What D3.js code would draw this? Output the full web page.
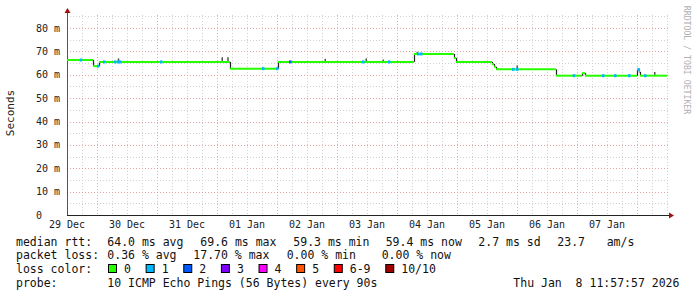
<!DOCTYPE html>
<html>
<head>
<meta charset="utf-8">
<script src="https://cdn.jsdelivr.net/npm/d3@7"></script>
<style>
  body { margin: 0; background: #fff; }
  text { font-family: "DejaVu Sans Mono", monospace; }
</style>
</head>
<body>
<svg id="chart" width="697" height="297"></svg>
<script>
// median rtt as steps: hours since 29 Dec 00:00 -> ms
const stepHours = [0, 10.4, 12.8, 65.2, 84.4, 138.8, 154.8, 155.6, 170, 170.8, 171.6, 195.6, 206, 207.2, 228, 228.8, 229.2];
const stepValues = [66.3, 63.7, 65.5, 62.6, 65.5, 68.9, 67.2, 65.5, 64.6, 63.4, 62.3, 59.6, 60.7, 59.6, 62.2, 61.2, 59.6];
const endHour = 240;

// samples that lost packets: hour, lost pings
const lossHours = [5.5, 12.4, 14.8, 19.2, 20.4, 21.2, 37.6, 78.4, 84, 89.2, 118.4, 128.8, 140.4, 141.6, 178.4, 180, 202.7, 214.4, 219.2, 224.8, 228.6, 231.2];
const lossCounts = [1, 1, 1, 1, 1, 1, 1, 1, 1, 2, 1, 1, 1, 1, 1, 1, 1, 1, 1, 1, 1, 1];

// smoke: hour, low, high (ms)
const smokeHours = [20.5, 62, 64.3, 103.2, 119.6, 126.4, 140, 180, 235];
const smokeLow = [65.5, 65.5, 65.5, 65.5, 65.5, 65.5, 68.9, 62.3, 59.6];
const smokeHigh = [67, 67.5, 67.5, 66.8, 67, 66.5, 69.8, 64, 61.2];

const lossLabels = ['0', '1', '2', '3', '4', '5', '6-9', '10/10'];
const lossColors = ['#26ff00', '#00b8ff', '#0059ff', '#7e00ff', '#ff00ff', '#ff5500', '#ff0000', '#a10000'];

const yTicks = [0, 10, 20, 30, 40, 50, 60, 70, 80];
const dayLabels = ['29 Dec', '30 Dec', '31 Dec', '01 Jan', '02 Jan', '03 Jan', '04 Jan', '05 Jan', '06 Jan', '07 Jan'];

const rttStats = ['64.0 ms avg', '69.6 ms max', '59.3 ms min', '59.4 ms now', '2.7 ms sd', '23.7', 'am/s'];
const lossStats = ['0.36 % avg', '17.70 % max', '0.00 % min', '0.00 % now'];
const probeText = '10 ICMP Echo Pings (56 Bytes) every 90s';
const stampText = 'Thu Jan  8 11:57:57 2026';

const svg = d3.select('#chart');
const t0 = new Date(2025, 11, 29);
const hour = h => new Date(t0.getTime() + h * 3600e3);

const x = d3.scaleTime().domain([t0, hour(240)]).range([67, 667]);
const y = d3.scaleLinear().domain([0, 80]).range([215, 28]);
const plotTop = y(85.6);

// grid
const grid = svg.append('g');
d3.range(0, 241, 6).forEach(h => {
  const major = h % 24 === 12;
  grid.append('line')
    .attr('x1', x(hour(h)) + 0.5).attr('x2', x(hour(h)) + 0.5)
    .attr('y1', plotTop).attr('y2', 215)
    .attr('stroke', major ? '#e9a3a3' : '#d0d0d0')
    .attr('stroke-dasharray', '1,2');
});
d3.range(5, 86, 5).forEach(v => {
  const major = v % 10 === 0;
  grid.append('line')
    .attr('x1', 67).attr('x2', 668)
    .attr('y1', Math.round(y(v)) + 0.5).attr('y2', Math.round(y(v)) + 0.5)
    .attr('stroke', major ? '#e9a3a3' : '#d0d0d0')
    .attr('stroke-dasharray', '1,2');
});

// axes
svg.append('line').attr('x1', 67.5).attr('x2', 67.5).attr('y1', 12).attr('y2', 215)
  .attr('stroke', '#555');
svg.append('line').attr('x1', 67).attr('x2', 670).attr('y1', 215.5).attr('y2', 215.5)
  .attr('stroke', '#222');
svg.append('path').attr('d', 'M64.5,13 L67.5,8 L70.5,13 Z').attr('fill', '#a01010');
svg.append('path').attr('d', 'M669,212.5 L674,215.5 L669,218.5 Z').attr('fill', '#a01010');

svg.append('g').selectAll('text')
  .data(yTicks)
  .enter()
  .append('text')
  .attr('x', 36)
  .attr('y', d => y(d) + 3.5)
  .style('font-size', '10px')
  .attr('fill', '#222')
  .text(d => d === 0 ? '0' : d + ' m');

svg.append('g').selectAll('text')
  .data(dayLabels)
  .enter()
  .append('text')
  .attr('x', (d, i) => x(hour(i * 24)))
  .attr('y', 228)
  .attr('text-anchor', 'middle')
  .style('font-size', '10px')
  .attr('fill', '#222')
  .text(d => d);

svg.append('text')
  .attr('transform', 'translate(14,113) rotate(-90)')
  .attr('text-anchor', 'middle')
  .style('font-size', '11px')
  .attr('fill', '#222')
  .text('Seconds');

svg.append('text')
  .attr('transform', 'translate(684,60) rotate(90)')
  .attr('text-anchor', 'middle')
  .style('font-size', '8.2px')
  .attr('fill', '#b0b0b0')
  .text('RRDTOOL / TOBI OETIKER');

// smoke
svg.append('g').selectAll('rect')
  .data(smokeHours)
  .enter()
  .append('rect')
  .attr('x', d => x(hour(d)) - 0.5)
  .attr('width', 1.5)
  .attr('y', (d, i) => y(smokeHigh[i]))
  .attr('height', (d, i) => y(smokeLow[i]) - y(smokeHigh[i]))
  .attr('fill', '#555');

// median line
const steps = stepHours.map((h, i) => ({
  h0: h,
  h1: i < stepHours.length - 1 ? stepHours[i + 1] : endHour,
  v: stepValues[i],
  next: stepValues[i + 1]
}));
svg.append('g').selectAll('line')
  .data(steps.filter(d => d.next !== undefined))
  .enter()
  .append('line')
  .attr('x1', d => x(hour(d.h1)) + 0.5).attr('x2', d => x(hour(d.h1)) + 0.5)
  .attr('y1', d => y(d.v)).attr('y2', d => y(d.next))
  .attr('stroke', '#222')
  .attr('stroke-width', 1.2);
svg.append('g').selectAll('line')
  .data(steps)
  .enter()
  .append('line')
  .attr('x1', d => x(hour(d.h0))).attr('x2', d => x(hour(d.h1)))
  .attr('y1', d => y(d.v)).attr('y2', d => y(d.v))
  .attr('stroke', lossColors[0])
  .attr('stroke-width', 2);

const valueAt = h => {
  let v = stepValues[0];
  stepHours.forEach((s, i) => { if (s <= h) v = stepValues[i]; });
  return v;
};
svg.append('g').selectAll('rect')
  .data(lossHours)
  .enter()
  .append('rect')
  .attr('x', d => x(hour(d)) - 1)
  .attr('width', 2.5)
  .attr('y', d => y(valueAt(d)) - 1.5)
  .attr('height', 3)
  .attr('fill', (d, i) => lossColors[lossCounts[i]]);

// legend
const legend = svg.append('g').style('font-size', '11.5px').attr('fill', '#111');
const rowY = [245.5, 259, 273, 286.5];
legend.append('text').attr('x', 16).attr('y', rowY[0]).text('median rtt:');
legend.selectAll('.rtt')
  .data(rttStats)
  .enter()
  .append('text')
  .attr('class', 'rtt')
  .attr('x', (d, i) => [107.3, 200.3, 293.3, 385.7, 478.3, 557.3, 606.7][i])
  .attr('y', rowY[0])
  .text(d => d);
legend.append('text').attr('x', 16).attr('y', rowY[1]).text('packet loss:');
legend.selectAll('.loss')
  .data(lossStats)
  .enter()
  .append('text')
  .attr('class', 'loss')
  .attr('x', (d, i) => [107.3, 193.3, 286.7, 381.7][i])
  .attr('y', rowY[1])
  .text(d => d);
legend.append('text').attr('x', 16).attr('y', rowY[2]).text('loss color:');
let lx = 108.5;
lossLabels.forEach((label, i) => {
  legend.append('rect')
    .attr('x', lx).attr('y', rowY[2] - 8.5)
    .attr('width', 8).attr('height', 8)
    .attr('fill', lossColors[i])
    .attr('stroke', '#000').attr('stroke-width', 1);
  legend.append('text').attr('x', lx + 15.5).attr('y', rowY[2]).text(label);
  lx += 30.7 + label.length * 6.93;
});
legend.append('text').attr('x', 16).attr('y', rowY[3]).text('probe:');
legend.append('text').attr('x', 107.3).attr('y', rowY[3]).text(probeText);
legend.append('text').attr('x', 513.3).attr('y', rowY[3])
  .style('white-space', 'pre').text(stampText);
</script>
</body>
</html>
